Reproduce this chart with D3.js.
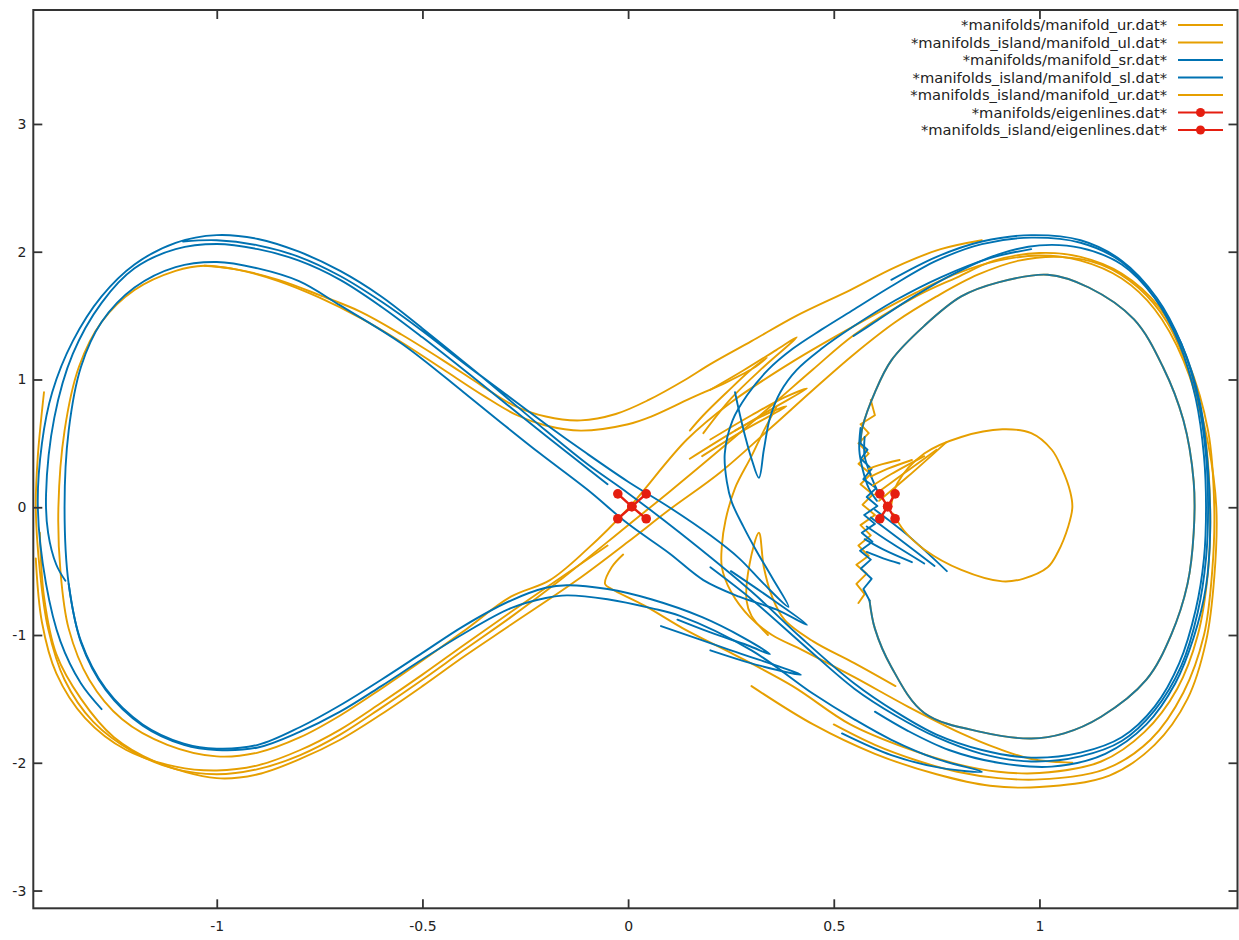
<!DOCTYPE html>
<html><head><meta charset="utf-8">
<script src="https://cdn.jsdelivr.net/npm/d3@7"></script>
<style>
body{margin:0;background:#fff}
svg{display:block}
text{font-family:"DejaVu Sans",sans-serif}
</style>
</head><body>
<svg id="chart" width="1239" height="940"></svg>
<script>
// ---------------- data ----------------
const xDomain = [-1.446, 1.4815];
const yDomain = [-3.139, 3.892];
const xTicks = [-1, -0.5, 0, 0.5, 1];
const xTickLabels = ["-1", "-0.5", "0", "0.5", "1"];
const yTicks = [-3, -2, -1, 0, 1, 2, 3];
const yTickLabels = ["-3", "-2", "-1", "0", "1", "2", "3"];
const legendLabels = [
  "*manifolds/manifold_ur.dat*",
  "*manifolds_island/manifold_ul.dat*",
  "*manifolds/manifold_sr.dat*",
  "*manifolds_island/manifold_sl.dat*",
  "*manifolds_island/manifold_ur.dat*",
  "*manifolds/eigenlines.dat*",
  "*manifolds_island/eigenlines.dat*"
];

// ---- manifolds/manifold_ur.dat (orange) ----
const urMain = [[0.86,2.09],[0.76,2.02],[0.65,1.88],[0.54,1.70],[0.41,1.5],[0.3,1.3],[0.2,1.12],[0.14,1.0],[0.05,0.84],[-0.03,0.73],[-0.115,0.68],[-0.2,0.71],[-0.28,0.8],[-0.355,0.95],[-0.45,1.15],[-0.55,1.35],[-0.65,1.53],[-0.75,1.66],[-0.85,1.78],[-0.95,1.86],[-1.03,1.89],[-1.1,1.85],[-1.2,1.7],[-1.28,1.45],[-1.335,1.1],[-1.37,0.6],[-1.385,0],[-1.38,-0.5],[-1.36,-0.95],[-1.31,-1.35],[-1.23,-1.66],[-1.12,-1.86],[-1.0,-1.95],[-0.9,-1.92],[-0.797,-1.8],[-0.7,-1.63],[-0.6,-1.42],[-0.5,-1.2],[-0.4,-0.97],[-0.285,-0.7],[-0.19,-0.57],[-0.1,-0.33],[0,-0.01],[0.143,0.53],[0.25,0.82],[0.4,1.14],[0.55,1.42],[0.7,1.68],[0.8,1.83],[0.9,1.93],[1.0,1.97],[1.1,1.93],[1.2,1.79],[1.28,1.55],[1.35,1.15],[1.40,0.6],[1.415,0],[1.41,-0.5],[1.385,-1.0],[1.335,-1.42],[1.255,-1.76],[1.15,-1.99],[1.0,-2.08],[0.9,-2.07],[0.8,-2.01],[0.68,-1.89],[0.54,-1.70],[0.4,-1.4],[0.25,-1.14],[0.14,-0.96],[0.04,-0.77],[-0.04,-0.64],[-0.056,-0.6],[-0.04,-0.47],[-0.012,-0.37]];
const urBand1 = [[-1.42,0.9],[-1.435,0.4],[-1.44,0],[-1.43,-0.5],[-1.41,-0.95],[-1.37,-1.35],[-1.3,-1.68],[-1.2,-1.92],[-1.1,-2.05],[-1.0,-2.09],[-0.9,-2.05],[-0.797,-1.94],[-0.7,-1.78],[-0.6,-1.57],[-0.5,-1.35],[-0.4,-1.12],[-0.285,-0.86],[-0.165,-0.57],[0,-0.14],[0.1,0.12],[0.223,0.45],[0.35,0.8],[0.45,1.08],[0.55,1.35],[0.7,1.65],[0.8,1.8],[0.89,1.93],[1.0,1.99],[1.1,1.96],[1.2,1.83],[1.29,1.57],[1.36,1.15],[1.41,0.6],[1.425,0],[1.42,-0.5],[1.4,-1.0],[1.35,-1.45],[1.27,-1.82],[1.16,-2.05],[1.0,-2.13],[0.9,-2.12],[0.8,-2.07],[0.7,-1.98],[0.6,-1.86],[0.5,-1.7]];
const urBand2 = [[-1.43,-0.2],[-1.42,-0.7],[-1.39,-1.15],[-1.33,-1.5],[-1.25,-1.8],[-1.15,-1.99],[-1.0,-2.12],[-0.9,-2.09],[-0.797,-1.97],[-0.7,-1.82],[-0.6,-1.62],[-0.5,-1.4],[-0.4,-1.17],[-0.285,-0.92],[-0.124,-0.57],[0,-0.27],[0.1,-0.02],[0.223,0.27],[0.35,0.63],[0.45,0.92],[0.55,1.2],[0.65,1.45],[0.75,1.65],[0.85,1.82],[0.95,1.93],[1.05,1.96],[1.15,1.9],[1.24,1.72],[1.31,1.45],[1.37,1.0],[1.41,0.5],[1.43,0],[1.425,-0.55],[1.405,-1.05],[1.36,-1.5],[1.28,-1.86],[1.17,-2.1],[1.0,-2.19],[0.88,-2.18],[0.75,-2.09],[0.6,-1.93],[0.45,-1.7],[0.3,-1.4]];
const urBand3 = [[-1.44,-0.4],[-1.425,-0.9],[-1.39,-1.3],[-1.32,-1.65],[-1.22,-1.9],[-1.1,-2.03],[-1.0,-2.06],[-0.9,-2.02],[-0.797,-1.9],[-0.7,-1.74],[-0.6,-1.53],[-0.5,-1.31],[-0.4,-1.08],[-0.285,-0.82],[-0.15,-0.52],[-0.05,-0.3]];
const urWedgeLower = [[-1.03,1.89],[-0.95,1.86],[-0.85,1.77],[-0.75,1.64],[-0.65,1.48],[-0.55,1.29],[-0.45,1.08],[-0.35,0.87],[-0.27,0.72],[-0.2,0.64],[-0.115,0.6],[0,0.65],[0.056,0.71],[0.15,0.85],[0.24,0.98],[0.31,1.1],[0.337,1.17],[0.3,1.08],[0.24,0.9],[0.183,0.72],[0.15,0.6]];
const urFoldA = [[0.183,0.58],[0.25,0.85],[0.33,1.1],[0.41,1.33],[0.36,1.23],[0.28,1.07],[0.2,0.92]];
const urFoldB = [[0.15,0.38],[0.25,0.58],[0.35,0.77],[0.435,0.93],[0.38,0.86],[0.3,0.72],[0.2,0.53]];
const urFoldC = [[0.18,0.4],[0.28,0.6],[0.385,0.79],[0.33,0.72],[0.26,0.6]];
const urDescend = [[0.36,0.78],[0.33,0.6],[0.3,0.4],[0.26,0.15],[0.237,-0.1],[0.228,-0.3],[0.228,-0.47],[0.25,-0.66],[0.296,-0.86],[0.35,-1.0],[0.425,-1.12],[0.55,-1.33],[0.68,-1.56],[0.81,-1.77],[0.9,-1.89],[0.98,-1.97],[1.08,-2.0]];
const urSpike = [[0.34,-1.0],[0.3,-0.85],[0.288,-0.73],[0.295,-0.45],[0.318,-0.2],[0.33,-0.47],[0.35,-0.7],[0.38,-0.88],[0.45,-1.05],[0.55,-1.22],[0.65,-1.4]];

// ---- manifolds_island/manifold_ul.dat (orange) & manifold_sl.dat (blue) ----
const islandInnerLoop = [[0.565,0.5],[0.57,0.63],[0.6,0.9],[0.64,1.15],[0.72,1.42],[0.81,1.65],[0.9,1.76],[1.02,1.82],[1.12,1.72],[1.23,1.47],[1.3,1.1],[1.35,0.68],[1.375,0.2],[1.375,-0.2],[1.36,-0.6],[1.32,-1.0],[1.26,-1.35],[1.15,-1.64],[1.06,-1.77],[0.98,-1.81],[0.86,-1.76],[0.72,-1.61],[0.64,-1.25],[0.6,-0.95],[0.587,-0.73]];
const ulZigzag = [[0.59,0.84],[0.6,0.72],[0.565,0.65],[0.585,0.58],[0.56,0.5],[0.585,0.42],[0.56,0.34],[0.59,0.26],[0.565,0.18],[0.595,0.1],[0.57,0.02],[0.6,-0.06],[0.565,-0.14],[0.59,-0.22],[0.56,-0.3],[0.585,-0.38],[0.555,-0.45],[0.58,-0.52],[0.555,-0.6],[0.575,-0.68],[0.56,-0.75]];
const slZigzag = [[0.587,-0.73],[0.572,-0.64],[0.592,-0.56],[0.566,-0.48],[0.59,-0.41],[0.564,-0.34],[0.594,-0.27],[0.568,-0.2],[0.6,-0.13],[0.574,-0.06],[0.606,0.01],[0.58,0.08],[0.603,0.15],[0.572,0.22],[0.592,0.3],[0.566,0.38],[0.582,0.45],[0.565,0.5]];
const slRise1 = [[0.565,0.62],[0.562,0.45],[0.57,0.3],[0.585,0.15],[0.605,0.05]];
const slRise2 = [[0.575,0.55],[0.575,0.4],[0.59,0.25],[0.61,0.1]];
const slStreak1 = [[0.6,-0.02],[0.68,-0.22],[0.775,-0.5]];
const slStreak2 = [[0.59,-0.08],[0.66,-0.25],[0.745,-0.46]];
const slStreak3 = [[0.58,-0.15],[0.64,-0.28],[0.72,-0.44]];
const slStreak4 = [[0.575,-0.25],[0.62,-0.33],[0.69,-0.43]];
const slStreak5 = [[0.58,-0.35],[0.62,-0.4],[0.66,-0.44]];

// ---- manifolds/manifold_sr.dat (blue) ----
const srA = [[-1.28,-1.58],[-1.33,-1.38],[-1.38,-1.05],[-1.415,-0.6],[-1.435,0],[-1.425,0.5],[-1.40,0.9],[-1.35,1.3],[-1.28,1.65],[-1.2,1.9],[-1.1,2.07],[-1.0,2.13],[-0.9,2.1],[-0.8,2.0],[-0.7,1.85],[-0.6,1.65],[-0.5,1.4],[-0.37,1.06],[-0.2,0.6],[-0.1,0.34],[0,0.11],[0.126,-0.2],[0.3,-0.66],[0.42,-1.02],[0.55,-1.38],[0.65,-1.6],[0.75,-1.78],[0.86,-1.9],[0.98,-1.96],[1.1,-1.92],[1.2,-1.8],[1.28,-1.56],[1.34,-1.22],[1.38,-0.8],[1.40,-0.4],[1.405,0],[1.40,0.4],[1.38,0.85],[1.34,1.28],[1.28,1.64],[1.2,1.92],[1.1,2.07],[0.98,2.11],[0.86,2.06],[0.75,1.93],[0.64,1.73],[0.55,1.55],[0.47,1.39],[0.4,1.24],[0.34,1.075],[0.29,0.88],[0.254,0.68],[0.235,0.42],[0.24,0.2],[0.252,0.04],[0.28,-0.15],[0.31,-0.33],[0.35,-0.55],[0.39,-0.78],[0.33,-0.6],[0.27,-0.4],[0.2,-0.22],[0.1,0.0],[0,0.2],[-0.1,0.42],[-0.2,0.65],[-0.3,0.89],[-0.4,1.13],[-0.5,1.38],[-0.6,1.61],[-0.7,1.81],[-0.8,1.96],[-0.9,2.05],[-1.0,2.09],[-1.082,2.08]];
const srB = [[0.25,-0.5],[0.35,-0.72],[0.435,-0.92],[0.36,-0.8],[0.27,-0.7],[0.183,-0.57],[0.1,-0.36],[0,-0.13],[-0.1,0.14],[-0.214,0.42],[-0.3,0.64],[-0.4,0.9],[-0.55,1.28],[-0.7,1.58],[-0.8,1.77],[-0.9,1.87],[-1.0,1.92],[-1.1,1.88],[-1.2,1.72],[-1.28,1.45],[-1.33,1.1],[-1.36,0.6],[-1.37,0],[-1.36,-0.6],[-1.33,-1.05],[-1.27,-1.42],[-1.18,-1.7],[-1.08,-1.85],[-1.0,-1.89],[-0.9,-1.86],[-0.797,-1.72],[-0.7,-1.55],[-0.6,-1.35],[-0.5,-1.14],[-0.4,-0.93],[-0.285,-0.73],[-0.2,-0.63],[-0.149,-0.61],[-0.05,-0.64],[0.056,-0.72],[0.18,-0.86],[0.28,-1.02],[0.345,-1.15],[0.29,-1.08],[0.2,-0.98],[0.12,-0.88]];
const srC = [[-1.36,-0.6],[-1.33,-1.06],[-1.27,-1.43],[-1.18,-1.71],[-1.08,-1.86],[-1.0,-1.9],[-0.9,-1.88],[-0.8,-1.76],[-0.7,-1.6],[-0.6,-1.4],[-0.5,-1.19],[-0.4,-0.99],[-0.285,-0.79],[-0.2,-0.71],[-0.149,-0.69],[-0.05,-0.72],[0.056,-0.79],[0.126,-0.85],[0.3,-1.12],[0.45,-1.46],[0.55,-1.66],[0.64,-1.82],[0.75,-1.97],[0.86,-2.07],[0.76,-2.04],[0.64,-1.94],[0.52,-1.77]];
const srFoldE = [[0.08,-0.93],[0.25,-1.12],[0.42,-1.31],[0.32,-1.24],[0.2,-1.12]];
const srFoldF = [[0.26,0.9],[0.27,0.75],[0.285,0.55],[0.3,0.38],[0.318,0.23],[0.33,0.45],[0.345,0.7],[0.37,0.9],[0.41,1.075],[0.47,1.24],[0.55,1.42],[0.65,1.62],[0.76,1.8],[0.88,1.95],[0.98,2.02]];
const srG = [[0.548,1.34],[0.6,1.45],[0.7,1.66],[0.8,1.84],[0.9,1.98],[1.0,2.05],[1.1,2.03],[1.2,1.9],[1.28,1.64],[1.345,1.28],[1.39,0.82],[1.41,0.3],[1.415,-0.2],[1.405,-0.62],[1.375,-1.02],[1.33,-1.38],[1.26,-1.7],[1.16,-1.93],[1.03,-2.03],[0.9,-2.0],[0.78,-1.9],[0.68,-1.75],[0.6,-1.6]];
const srH = [[-0.05,0.18],[-0.2,0.56],[-0.37,1.0],[-0.5,1.33],[-0.6,1.57],[-0.7,1.78],[-0.8,1.93],[-0.9,2.02],[-1.0,2.06],[-1.1,2.02],[-1.2,1.87],[-1.28,1.6],[-1.35,1.2],[-1.395,0.7],[-1.415,0.1],[-1.41,-0.2],[-1.39,-0.45],[-1.368,-0.575]];
const srI = [[0.2,-0.47],[0.3,-0.72],[0.42,-1.06],[0.55,-1.42],[0.65,-1.63],[0.75,-1.8],[0.86,-1.93],[0.98,-1.99],[1.1,-1.95],[1.2,-1.83],[1.28,-1.59],[1.345,-1.24],[1.385,-0.82],[1.405,-0.4],[1.41,0],[1.405,0.4],[1.385,0.85],[1.345,1.28],[1.285,1.64],[1.2,1.93],[1.1,2.09],[0.98,2.13],[0.86,2.08],[0.75,1.96],[0.64,1.78]];

// ---- manifolds_island/manifold_ur.dat (orange) ----
const islandLoop = [[0.64,0.02],[0.655,0.19],[0.72,0.42],[0.81,0.55],[0.91,0.61],[0.98,0.58],[1.03,0.45],[1.055,0.3],[1.075,0.12],[1.08,0.0],[1.07,-0.15],[1.045,-0.35],[1.02,-0.47],[0.96,-0.56],[0.91,-0.58],[0.81,-0.49],[0.72,-0.33],[0.67,-0.18],[0.645,-0.05]];
const iurStreak1 = [[0.61,0.05],[0.68,0.24],[0.774,0.51]];
const iurStreak2 = [[0.6,0.1],[0.66,0.24],[0.75,0.45]];
const iurStreak3 = [[0.595,0.17],[0.64,0.26],[0.72,0.4]];
const iurStreak4 = [[0.59,0.24],[0.63,0.3],[0.69,0.37]];
const iurStreak5 = [[0.585,0.3],[0.61,0.33],[0.66,0.37]];

// ---- eigenlines ----
const eigenOriginStable = [[-0.025,0.105],[0.009,0.005],[0.044,-0.09]];
const eigenOriginUnstable = [[0.044,0.105],[0.009,0.005],[-0.025,-0.09]];
const eigenIslandStable = [[0.612,0.105],[0.631,0.005],[0.649,-0.09]];
const eigenIslandUnstable = [[0.649,0.105],[0.631,0.005],[0.612,-0.09]];

// ---------------- drawing ----------------
const ORANGE = "#E69F00", BLUE = "#0072B2", RED = "#E51E10";
const plot = {left: 33.3, top: 10, right: 1237.5, bottom: 908.3};
const svg = d3.select("#chart");
const x = d3.scaleLinear().domain(xDomain).range([plot.left, plot.right]);
const y = d3.scaleLinear().domain(yDomain).range([plot.bottom, plot.top]);

const smooth = d3.line().x(d => x(d[0])).y(d => y(d[1])).curve(d3.curveCatmullRom.alpha(0.5));
const straight = d3.line().x(d => x(d[0])).y(d => y(d[1]));

svg.append("defs").append("clipPath").attr("id","clip")
  .append("rect").attr("x",plot.left).attr("y",plot.top)
  .attr("width",plot.right-plot.left).attr("height",plot.bottom-plot.top);
const g = svg.append("g").attr("clip-path","url(#clip)");

const LW = 1.9;
const layers = [
  // manifolds/manifold_ur.dat
  {data: urMain, color: ORANGE}, {data: urBand1, color: ORANGE}, {data: urBand2, color: ORANGE},
  {data: urBand3, color: ORANGE},
  {data: urWedgeLower, color: ORANGE}, {data: urFoldA, color: ORANGE}, {data: urFoldB, color: ORANGE},
  {data: urFoldC, color: ORANGE}, {data: urDescend, color: ORANGE}, {data: urSpike, color: ORANGE},
  // manifolds_island/manifold_ul.dat
  {data: islandInnerLoop, color: ORANGE}, {data: ulZigzag, color: ORANGE, lin: true},
  // manifolds/manifold_sr.dat
  {data: srA, color: BLUE}, {data: srB, color: BLUE}, {data: srC, color: BLUE},
  {data: srFoldE, color: BLUE}, {data: srFoldF, color: BLUE}, {data: srG, color: BLUE},
  {data: srH, color: BLUE}, {data: srI, color: BLUE},
  // manifolds_island/manifold_sl.dat
  {data: islandInnerLoop, color: BLUE, op: 0.88}, {data: slZigzag, color: BLUE, lin: true},
  {data: slRise1, color: BLUE}, {data: slRise2, color: BLUE},
  {data: slStreak1, color: BLUE}, {data: slStreak2, color: BLUE}, {data: slStreak3, color: BLUE},
  {data: slStreak4, color: BLUE}, {data: slStreak5, color: BLUE},
  // manifolds_island/manifold_ur.dat
  {data: islandLoop, color: ORANGE},
  {data: iurStreak1, color: ORANGE}, {data: iurStreak2, color: ORANGE}, {data: iurStreak3, color: ORANGE},
  {data: iurStreak4, color: ORANGE}, {data: iurStreak5, color: ORANGE}
];

layers.forEach(l => {
  g.append("path").attr("d", (l.lin ? straight : smooth)(l.data))
    .attr("fill","none").attr("stroke", l.color)
    .attr("stroke-width", l.w || LW).attr("stroke-opacity", l.op || 1)
    .attr("stroke-linejoin","round").attr("stroke-linecap","round");
});

// eigenlines
[eigenOriginStable, eigenOriginUnstable, eigenIslandStable, eigenIslandUnstable].forEach(arr => {
  g.append("path").attr("d", straight(arr)).attr("fill","none")
    .attr("stroke", RED).attr("stroke-width", 2.4);
  g.selectAll(null).data(arr).enter().append("circle")
    .attr("cx", d => x(d[0])).attr("cy", d => y(d[1])).attr("r", 4.8).attr("fill", RED);
});

// axes
const axCol = "#333";
const bottomAxis = svg.append("g").attr("transform",`translate(0,${plot.bottom})`)
  .call(d3.axisBottom(x).tickValues(xTicks).tickFormat((d,i)=>xTickLabels[i]).tickSize(-9).tickPadding(13));
const topAxis = svg.append("g").attr("transform",`translate(0,${plot.top})`)
  .call(d3.axisTop(x).tickValues(xTicks).tickFormat("").tickSize(-9));
const leftAxis = svg.append("g").attr("transform",`translate(${plot.left},0)`)
  .call(d3.axisLeft(y).tickValues(yTicks).tickFormat((d,i)=>yTickLabels[i]).tickSize(-9).tickPadding(7));
const rightAxis = svg.append("g").attr("transform",`translate(${plot.right},0)`)
  .call(d3.axisRight(y).tickValues(yTicks).tickFormat("").tickSize(-9));
[bottomAxis, topAxis, leftAxis, rightAxis].forEach(a => {
  a.select(".domain").remove();
  a.selectAll(".tick line").attr("stroke", axCol).attr("stroke-width", 1.8);
  a.selectAll(".tick text").attr("fill","#222").attr("font-size","14px")
    .attr("font-family","DejaVu Sans, sans-serif");
});

svg.append("rect").attr("x",plot.left).attr("y",plot.top)
  .attr("width",plot.right-plot.left).attr("height",plot.bottom-plot.top)
  .attr("fill","none").attr("stroke",axCol).attr("stroke-width",2);

// legend
const legendColors = [ORANGE, ORANGE, BLUE, BLUE, ORANGE, RED, RED];
const legendPoints = [false,false,false,false,false,true,true];
const lg = svg.append("g");
legendLabels.forEach((lab,i) => {
  const yy = 25 + i*17.5;
  lg.append("text").attr("x",1167).attr("y",yy).attr("dy","0.35em")
    .attr("text-anchor","end").attr("font-size","14.7px").attr("fill","#222").text(lab);
  lg.append("line").attr("x1",1178).attr("x2",1223).attr("y1",yy).attr("y2",yy)
    .attr("stroke",legendColors[i]).attr("stroke-width",2);
  if (legendPoints[i]) lg.append("circle").attr("cx",1200.5).attr("cy",yy).attr("r",4.5).attr("fill",RED);
});
</script>
</body></html>
